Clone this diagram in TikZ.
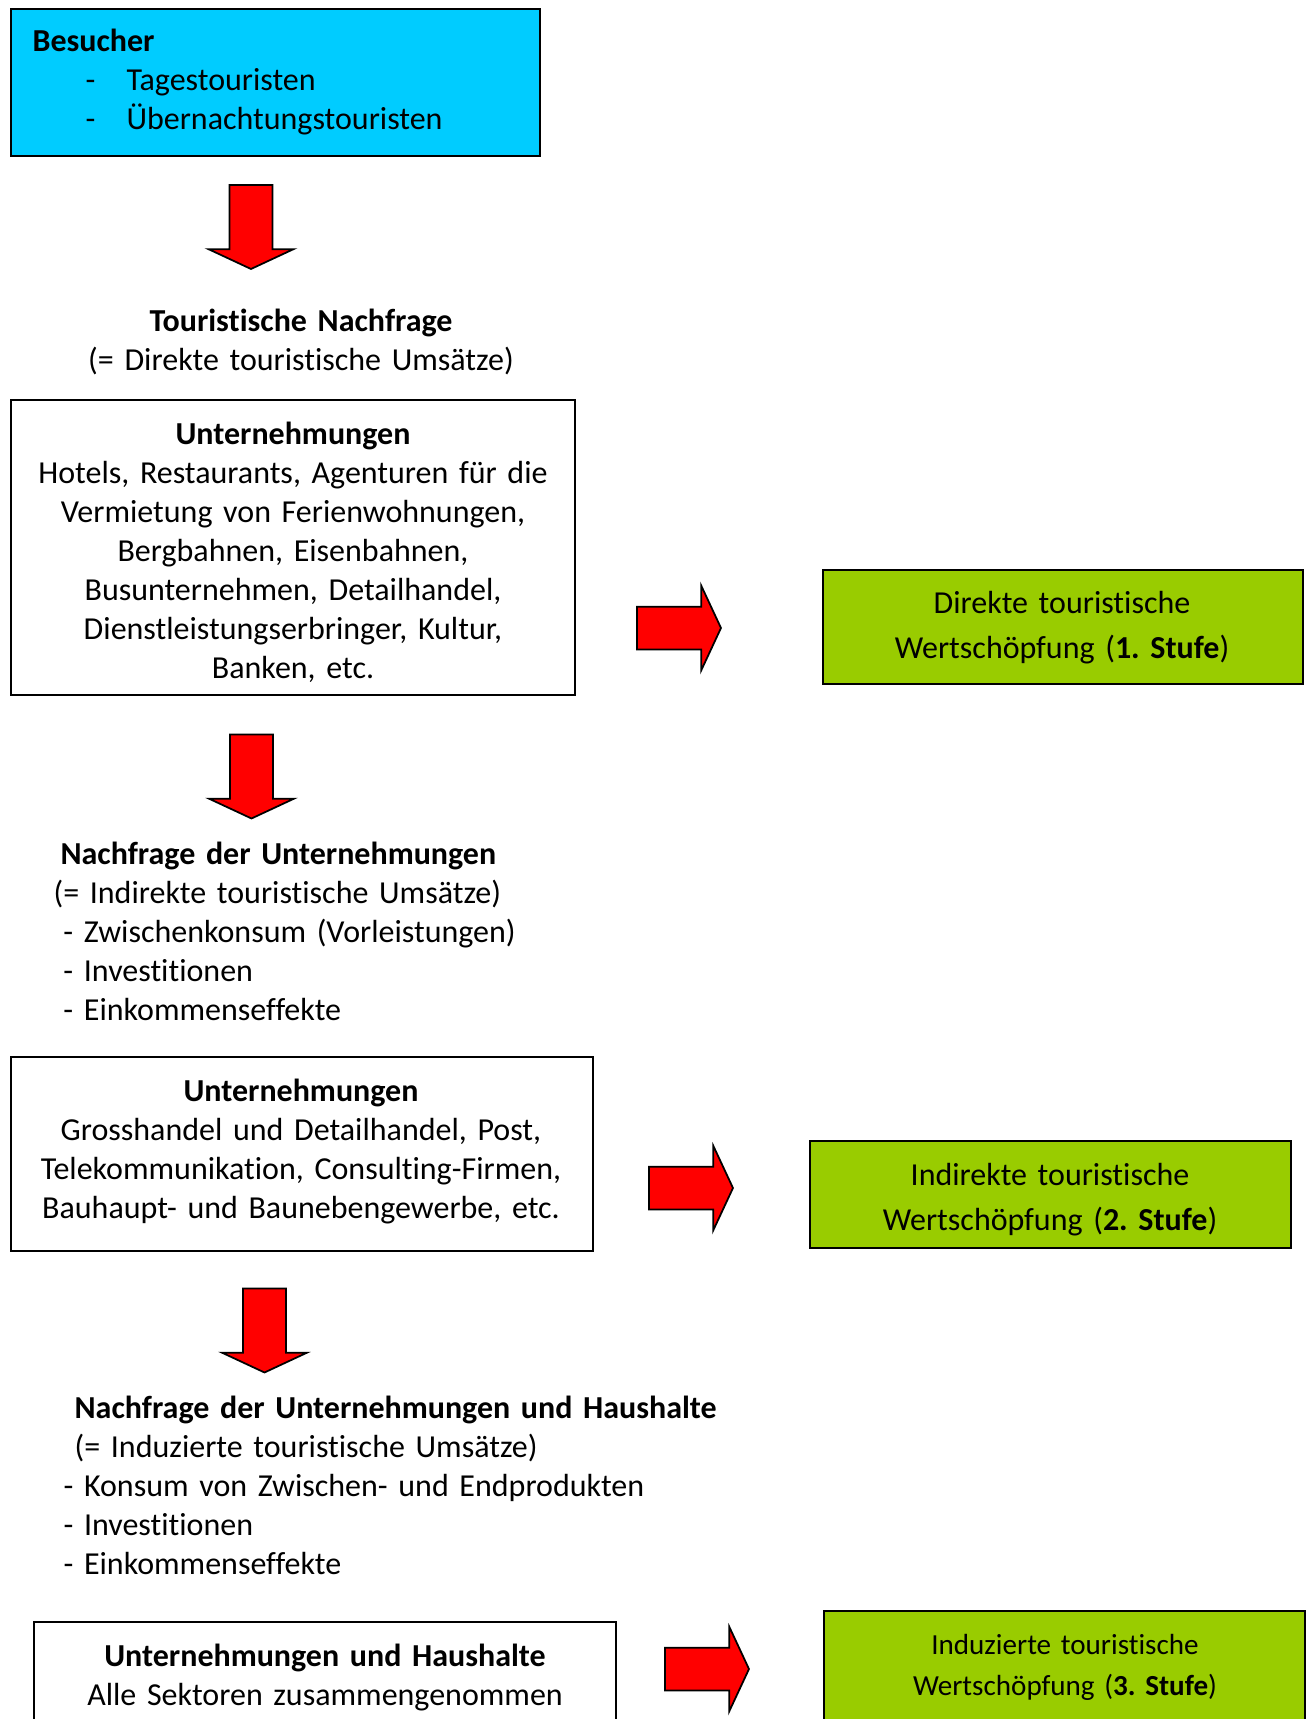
\documentclass[tikz,border=0pt]{standalone}
\usepackage{fontspec}
\setmainfont{Carlito}[Ligatures=NoCommon,WordSpace=0.6]
\usetikzlibrary{shapes.arrows}
\definecolor{visitorblue}{HTML}{00CCFF}
\definecolor{valuegreen}{HTML}{99CC00}
\def\px{0.34375pt}
\frenchspacing

\begin{document}
\begin{tikzpicture}[x=\px,y=-\px]
\tikzstyle{box}=[rectangle,draw=black,line width=0.6pt,inner sep=0pt]
\tikzstyle{visitor}=[box,fill=visitorblue]
\tikzstyle{value}=[box,fill=valuegreen]
\tikzstyle{bigarrow}=[single arrow,draw=black,fill=red,line width=0.6pt,inner xsep=0pt,inner ysep=7.05pt,minimum height=28.875pt,single arrow head extend=7.2pt,single arrow tip angle=130]
\tikzstyle{txt}=[inner sep=0pt,font=\fontsize{11}{13.45}\selectfont]
\tikzstyle{valuetxt}=[inner sep=0pt,font=\fontsize{11}{15.5}\selectfont,align=center,text width=160pt,anchor=base]

\useasboundingbox (0,0) rectangle (1313,1719);
\clip (0,0) rectangle (1313,1719);

%visitors.
\node[visitor,minimum width=529*\px,minimum height=147*\px] (visitor_box) at (275.5,82.5) {};
\node[txt,anchor=base west,text width=170pt,align=left] (visitor_text) at (32,51) {\textbf{Besucher}\\
  \hspace*{18.2pt}\makebox[14.1pt][l]{-}Tagestouristen\\
  \hspace*{18.2pt}\makebox[14.1pt][l]{-}Übernachtungstouristen};
\node[bigarrow,rotate=-90] (arrow_demand) at (251,222) {};

\node[txt,anchor=base,text width=160pt,align=center] (tourist_demand) at (301,331) {\textbf{Touristische Nachfrage}\\(= Direkte touristische Umsätze)};

%first stage.
\node[box,minimum width=564*\px,minimum height=295*\px] (firms_box) at (293,547.5) {};
\node[txt,anchor=base,text width=190pt,align=center] (firms_text) at (293,444) {\textbf{Unternehmungen}\\
  Hotels, Restaurants, Agenturen für die\\Vermietung von Ferienwohnungen,\\Bergbahnen, Eisenbahnen,\\
  Busunternehmen, Detailhandel,\\Dienstleistungserbringer, Kultur,\\Banken, etc.};
\node[bigarrow] (arrow_direct) at (674,628) {};
\node[value,minimum width=480*\px,minimum height=114*\px] (direct_box) at (1063,627) {};
\node[valuetxt] (direct_text) at (1062,613) {Direkte touristische\\Wertschöpfung (\textbf{1. Stufe})};

\node[bigarrow,rotate=-90] (arrow_firms) at (251.5,771.5) {};
\node[txt,anchor=base west,text width=190pt,align=left] (firm_demand) at (53,864) {\hspace*{2.4pt}\textbf{Nachfrage der Unternehmungen}\\
  (= Indirekte touristische Umsätze)\\\hspace*{3.4pt}- Zwischenkonsum (Vorleistungen)\\
  \hspace*{3.4pt}- Investitionen\\\hspace*{3.4pt}- Einkommenseffekte};

%second stage.
\node[box,minimum width=582*\px,minimum height=194*\px] (suppliers_box) at (302,1154) {};
\node[txt,anchor=base,text width=200pt,align=center] (suppliers_text) at (301,1101) {\textbf{Unternehmungen}\\
  Grosshandel und Detailhandel, Post,\\Telekommunikation, Consulting-Firmen,\\Bauhaupt- und Baunebengewerbe, etc.};
\node[bigarrow] (arrow_indirect) at (686,1188) {};
\node[value,minimum width=481*\px,minimum height=107*\px] (indirect_box) at (1050.5,1194.5) {};
\node[valuetxt] (indirect_text) at (1050,1185) {Indirekte touristische\\Wertschöpfung (\textbf{2. Stufe})};

\node[bigarrow,rotate=-90] (arrow_households) at (264.5,1325.5) {};
\node[txt,anchor=base west,text width=260pt,align=left] (household_demand) at (63,1418) {\hspace*{3.8pt}\textbf{Nachfrage der Unternehmungen und Haushalte}\\
  \hspace*{3.8pt}(= Induzierte touristische Umsätze)\\- Konsum von Zwischen- und Endprodukten\\
  - Investitionen\\- Einkommenseffekte};

%third stage.
\node[box,minimum width=582*\px,minimum height=138*\px] (all_box) at (325,1691) {};
\node[txt,anchor=base,text width=200pt,align=center] (all_text) at (325,1666) {\textbf{Unternehmungen und Haushalte}\\Alle Sektoren zusammengenommen};
\node[bigarrow] (arrow_induced) at (702,1669) {};
\node[value,minimum width=481*\px,minimum height=149*\px] (induced_box) at (1064.5,1685.5) {};
\node[valuetxt,font=\fontsize{10}{14.1}\selectfont] (induced_text) at (1065,1654) {Induzierte touristische\\Wertschöpfung (\textbf{3. Stufe})};

\end{tikzpicture}
\end{document}
